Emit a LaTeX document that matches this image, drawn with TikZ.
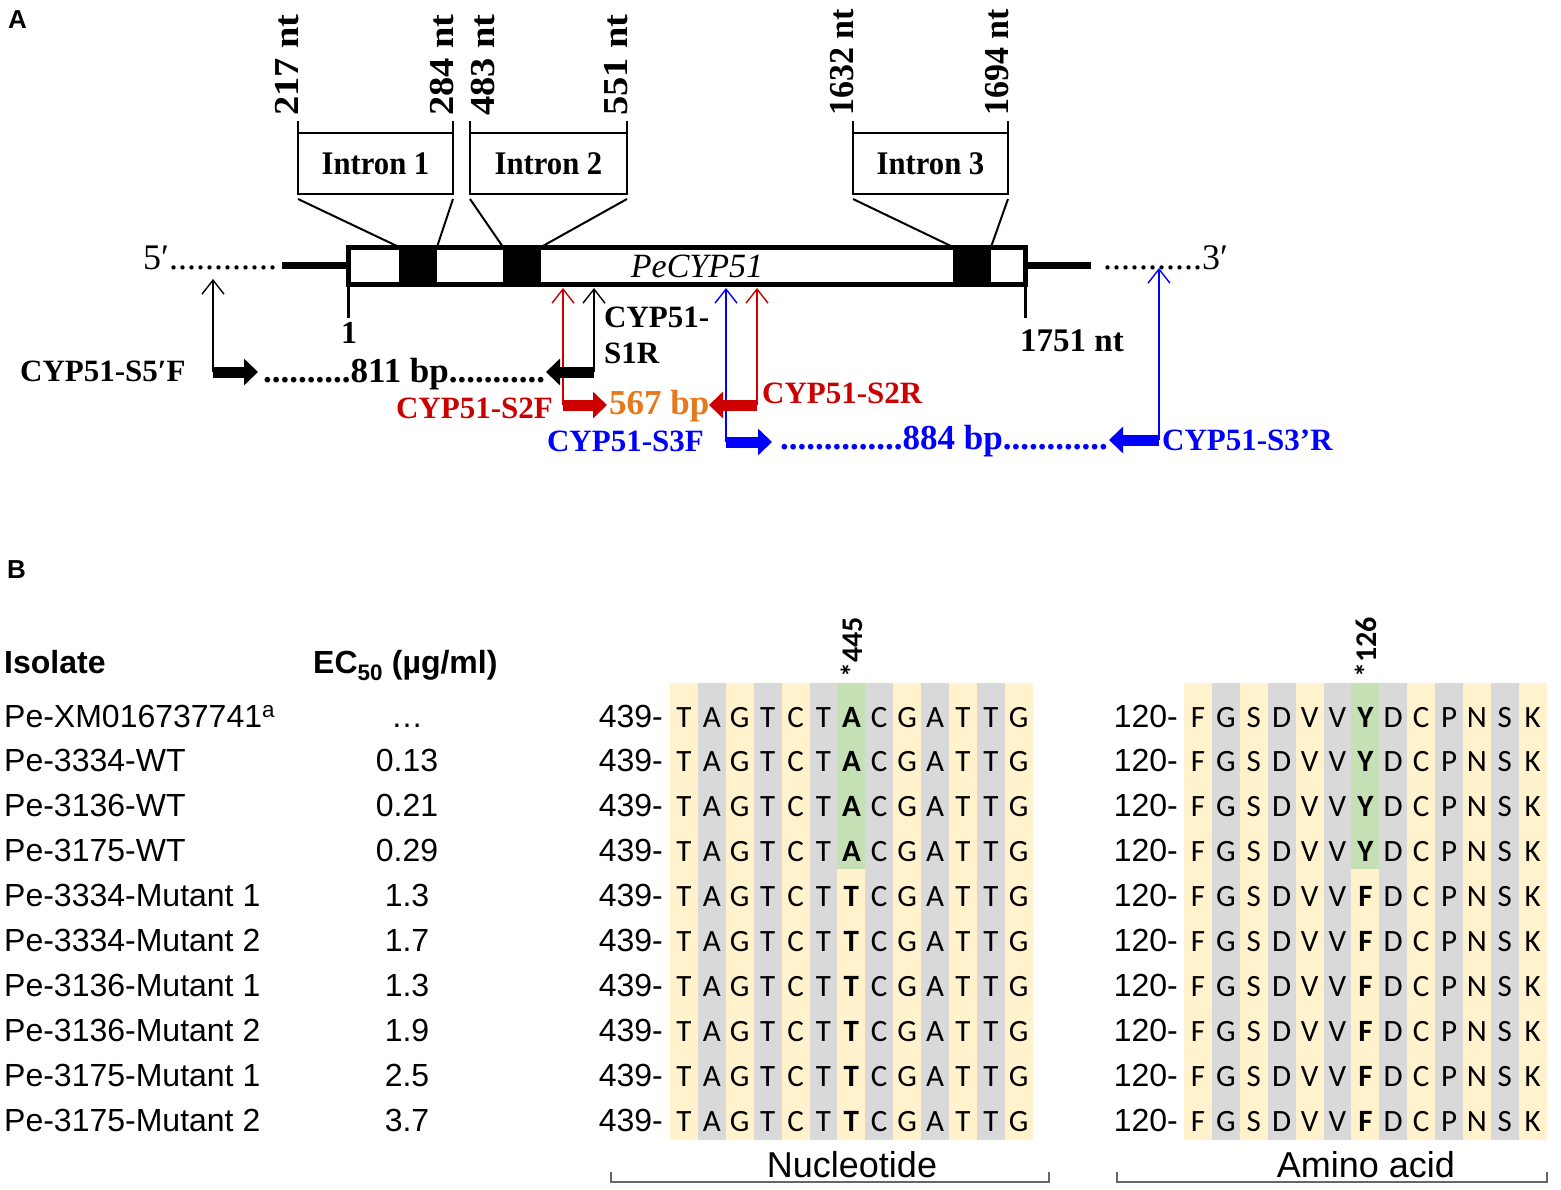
\documentclass[tikz,border=0pt]{standalone}
\usepackage{fontspec}
\setmainfont{Liberation Serif}
\newfontfamily\arialf{Liberation Sans}
\newfontfamily\calf{Carlito}
\usetikzlibrary{arrows.meta}
\newcommand\myfs[1]{\fontsize{#1}{#1}\selectfont}
\newcommand\wlab[1]{\scalebox{1.1}[1]{#1}}
\newcommand\wlabb[1]{\scalebox{0.97}[1]{#1}}
\newcommand\nint[1]{\scalebox{0.93}[1]{#1}}
\definecolor{pred}{RGB}{204,0,0}
\definecolor{pblue}{RGB}{0,0,255}
\definecolor{porange}{RGB}{230,120,30}
\definecolor{cyel}{RGB}{255,242,204}
\definecolor{cgry}{RGB}{217,217,217}
\definecolor{cgrn}{RGB}{197,224,180}
\tikzset{
  panel/.style={font=\arialf\bfseries\myfs{26}, inner sep=0pt},
  lab/.style={rotate=90, font=\bfseries\myfs{35}, inner sep=0pt},
  thinl/.style={line width=2pt},
  intr/.style={font=\bfseries\myfs{33}, inner sep=0pt},
  prim/.style={font=\bfseries\myfs{31}, inner sep=0pt},
  bpl/.style={font=\bfseries\myfs{35}, inner sep=0pt},
  thinar/.style={line width=1.4pt, -{Straight Barb[length=14pt,width=22pt,line width=1.4pt]}},
  blockar/.style={line width=11pt, -{Triangle[length=14pt,width=26pt]}},
  hdr/.style={font=\arialf\bfseries\myfs{32}, inner sep=0pt},
  rowt/.style={font=\arialf\myfs{32}, inner sep=0pt},
  seq/.style={font=\calf\myfs{31}, inner sep=0pt},
  seqb/.style={font=\calf\bfseries\myfs{31}, inner sep=0pt},
  brk/.style={line width=1.3pt, black!60},
}
\begin{document}
\begin{tikzpicture}[x=1pt,y=-1pt]
\useasboundingbox (0,0) rectangle (1561,1189);
\fill[white] (0,0) rectangle (1561,1189);

%%%%%%%%%%%%%%%% Panel A
\node[panel, anchor=north west] (labA) at (8,10) {A};

\node[lab, anchor=base west] (l217) at (298,116) {\wlab{217 nt}};
\node[lab, anchor=base west] (l284) at (453,116) {\wlab{284 nt}};
\node[lab, anchor=north west] (l483) at (471,116) {\wlab{483 nt}};
\node[lab, anchor=base west] (l551) at (627,116) {\wlab{551 nt}};
\node[lab, anchor=base west] (l1632) at (853,116) {\wlabb{1632 nt}};
\node[lab, anchor=base west] (l1694) at (1008,116) {\wlabb{1694 nt}};

\foreach \a/\b/\n/\p/\q in {298/453/1/399/437, 470/627/2/503/541, 853/1008/3/953/991} {
  \draw[thinl] (\a,121) -- (\a,194) -- (\b,194) -- (\b,121);
  \draw[thinl] (\a,133) -- (\b,133);
  \node[intr] (intron\n) at ({(\a+\b)/2},164) {\nint{Intron \n}};
  \draw[thinl] (\a,199) -- (\p,247);
  \draw[thinl] (\b,199) -- (\q,247);
}

% gene body
\fill (399,247) rectangle (437,284);
\fill (503,247) rectangle (541,284);
\fill (953,247) rectangle (991,284);
\draw[line width=5pt] (348,247) rectangle (1025,284);
\node[font=\itshape\myfs{34}, inner sep=0pt, anchor=base] (gene) at (697,277) {PeCYP51};

% flanks
\draw[line width=7pt] (282,265) -- (348,265);
\draw[line width=7pt] (1025,265) -- (1091,265);
\node[anchor=base west, font=\myfs{36}, inner sep=0pt] (five) at (143,269) {5′............};
\node[anchor=base west, font=\myfs{36}, inner sep=0pt] (three) at (1103,269) {...........3′};

% ticks
\draw[line width=3pt] (348,284) -- (348,318);
\node[anchor=north, font=\bfseries\myfs{32}, inner sep=0pt] (one) at (349,322) {1};
\draw[line width=3pt] (1025,284) -- (1025,318);
\node[anchor=north west, font=\bfseries\myfs{33}, inner sep=0pt] (len) at (1020,330) {1751 nt};

% primer positions
\coordinate (p5f) at (213,372);  \coordinate (t5f) at (213,279);
\coordinate (p2f) at (563,405);  \coordinate (t2f) at (563,288);
\coordinate (p1r) at (594,372);  \coordinate (t1r) at (594,288);
\coordinate (p3f) at (726,442);  \coordinate (t3f) at (726,288);
\coordinate (p2r) at (757,405);  \coordinate (t2r) at (757,288);
\coordinate (p3r) at (1159,440); \coordinate (t3r) at (1159,268);

\draw[thinar] (p5f) -- (t5f);
\draw[thinar] (p1r) -- (t1r);
\draw[thinar, pred] (p2f) -- (t2f);
\draw[thinar, pred] (p2r) -- (t2r);
\draw[thinar, pblue] (p3f) -- (t3f);
\draw[thinar, pblue] (p3r) -- (t3r);

\coordinate (h5f) at (258,372);
\coordinate (h1r) at (546,372);
\coordinate (h2f) at (607,405);
\coordinate (h2r) at (709,405);
\coordinate (h3f) at (772,442);
\coordinate (h3r) at (1109,440);
\draw[blockar] (p5f) -- (h5f);
\draw[blockar] (p1r) -- (h1r);
\draw[blockar, pred] (p2f) -- (h2f);
\draw[blockar, pred] (p2r) -- (h2r);
\draw[blockar, pblue] (p3f) -- (h3f);
\draw[blockar, pblue] (p3r) -- (h3r);

% primer labels
\node[prim, anchor=base west] (s5f) at (20,381) {CYP51-S5′F};
\node[bpl, anchor=base west] (b811) at (263,382) {..........811 bp...........};
\node[prim, anchor=base west] (s1ra) at (604,327) {CYP51-};
\node[prim, anchor=base west] (s1rb) at (604,363) {S1R};
\node[prim, pred, anchor=base east] (s2f) at (553,418) {CYP51-S2F};
\node[bpl, porange, anchor=base west] (b567) at (609,414) {567 bp};
\node[prim, pred, anchor=base west] (s2r) at (762,403) {CYP51-S2R};
\node[prim, pblue, anchor=base east] (s3f) at (704,451) {CYP51-S3F};
\node[bpl, pblue, anchor=base west] (b884) at (780,449) {..............884 bp............};
\node[prim, pblue, anchor=base west] (s3r) at (1162,450) {CYP51-S3’R};

%%%%%%%%%%%%%%%% Panel B
\node[panel, anchor=north west] (labB) at (7,560) {B};
\node[hdr, anchor=base west] (hiso) at (4,673) {Isolate};
\node[hdr, anchor=base west] (hec) at (313,673) {EC\textsubscript{50} (µg/ml)};

% column backgrounds
\foreach \x in {670,1184} {
  \foreach \i in {0,2,...,12}
    \fill[cyel] ({\x+27.9*\i},683) rectangle ({\x+27.9*(\i+1)},1140);
  \foreach \i in {1,3,...,11}
    \fill[cgry] ({\x+27.9*\i},683) rectangle ({\x+27.9*(\i+1)},1140);
  \fill[cgrn] ({\x+27.9*6},683) rectangle ({\x+27.9*7},869);
}

\node[rotate=90, font=\calf\bfseries\myfs{30}, inner sep=0pt, anchor=west] (m445) at (851.4,678) {*445};
\node[rotate=90, font=\calf\bfseries\myfs{30}, inner sep=0pt, anchor=west] (m126) at (1365.4,678) {*126};

\foreach \r/\nm/\ec in {0/{Pe-XM016737741\textsuperscript{a}}/{…},
  1/{Pe-3334-WT}/{0.13}, 2/{Pe-3136-WT}/{0.21}, 3/{Pe-3175-WT}/{0.29},
  4/{Pe-3334-Mutant 1}/{1.3}, 5/{Pe-3334-Mutant 2}/{1.7},
  6/{Pe-3136-Mutant 1}/{1.3}, 7/{Pe-3136-Mutant 2}/{1.9},
  8/{Pe-3175-Mutant 1}/{2.5}, 9/{Pe-3175-Mutant 2}/{3.7}} {
  \pgfmathsetmacro\yb{727+44.9*\r}
  \node[rowt, anchor=base west] (iso-\r) at (4,\yb) {\nm};
  \node[rowt, anchor=base] (ec-\r) at (407,\yb) {\ec};
  \node[rowt, anchor=base east] (ntpos-\r) at (663,\yb) {439-};
  \node[rowt, anchor=base east] (aapos-\r) at (1178,\yb) {120-};
  \foreach \c/\L in {0/T,1/A,2/G,3/T,4/C,5/T,7/C,8/G,9/A,10/T,11/T,12/G}
    \node[seq, anchor=base] (nt-\r-\c) at ({670+27.9*(\c+0.5)},\yb) {\L};
  \foreach \c/\L in {0/F,1/G,2/S,3/D,4/V,5/V,7/D,8/C,9/P,10/N,11/S,12/K}
    \node[seq, anchor=base] (aa-\r-\c) at ({1184+27.9*(\c+0.5)},\yb) {\L};
  \ifnum\r<4
    \node[seqb, anchor=base] (nt-\r-6) at (851.4,\yb) {A};
    \node[seqb, anchor=base] (aa-\r-6) at (1365.4,\yb) {Y};
  \else
    \node[seqb, anchor=base] (nt-\r-6) at (851.4,\yb) {T};
    \node[seqb, anchor=base] (aa-\r-6) at (1365.4,\yb) {F};
  \fi
}

% brackets
\draw[brk] (611,1172) -- (611,1182) -- (1049,1182) -- (1049,1172);
\draw[brk] (1117,1172) -- (1117,1182) -- (1547,1182) -- (1547,1172);
\node[font=\arialf\myfs{36}, inner sep=0pt, anchor=base] (nuc) at (852,1177) {Nucleotide};
\node[font=\arialf\myfs{36}, inner sep=0pt, anchor=base] (amino) at (1366,1177) {Amino acid};
\end{tikzpicture}
\end{document}
